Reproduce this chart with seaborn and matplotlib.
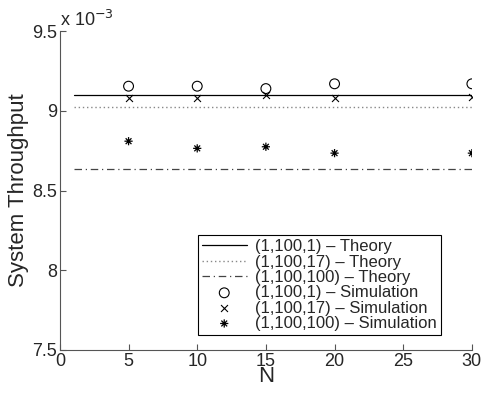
import matplotlib
matplotlib.use('Agg')
import matplotlib.pyplot as plt
from matplotlib.path import Path
import seaborn as sns
import pandas as pd

# values in units of 1e-3
N_theory = [1, 30]
theory_1 = [9.10, 9.10]
theory_17 = [9.025, 9.025]
theory_100 = [8.635, 8.635]

N_sim = [5, 10, 15, 20, 30]
sim_1 = [9.155, 9.155, 9.14, 9.17, 9.17]
sim_17 = [9.08, 9.08, 9.10, 9.08, 9.09]
sim_100 = [8.81, 8.765, 8.775, 8.735, 8.735]

# MATLAB style asterisk: plus and cross together
d = 0.7071
star = Path([(-1, 0), (1, 0), (0, -1), (0, 1), (-d, -d), (d, d), (-d, d), (d, -d)],
            [Path.MOVETO, Path.LINETO] * 4)

sns.set_style('white')
plt.rcParams['font.family'] = ['Liberation Sans', 'DejaVu Sans']

fig, ax = plt.subplots(figsize=(4.83, 4.0), dpi=100)
fig.subplots_adjust(left=0.124, right=0.977, top=0.922, bottom=0.125)

sns.lineplot(x=N_theory, y=theory_1, color='black', lw=0.9, ax=ax,
             label='(1,100,1) \u2013 Theory')
sns.lineplot(x=N_theory, y=theory_17, color='#888888', lw=1.0, ls=(0, (1, 2)), ax=ax,
             label='(1,100,17) \u2013 Theory')
sns.lineplot(x=N_theory, y=theory_100, color='#444444', lw=0.9, ls=(0, (6, 3, 1, 3)), ax=ax,
             label='(1,100,100) \u2013 Theory')
sns.scatterplot(x=N_sim, y=sim_1, marker='o', s=50, facecolor='none', edgecolor='black',
                linewidth=0.8, ax=ax, label='(1,100,1) \u2013 Simulation')
sns.scatterplot(x=N_sim, y=sim_17, marker='x', s=25, color='black',
                linewidth=0.8, ax=ax, label='(1,100,17) \u2013 Simulation')
sns.scatterplot(x=N_sim, y=sim_100, marker=star, s=35, facecolor='none', edgecolor='black',
                linewidth=0.9, ax=ax, label='(1,100,100) \u2013 Simulation')

ax.set_xlim(0, 30)
ax.set_ylim(7.5, 9.5)
ax.set_xticks([0, 5, 10, 15, 20, 25, 30])
ax.set_yticks([7.5, 8, 8.5, 9, 9.5])
ax.set_yticklabels(['7.5', '8', '8.5', '9', '9.5'])
ax.tick_params(labelsize=13, direction='in', length=4, color='#555555', pad=2,
               bottom=True, left=True)
for s in ['top', 'right']:
    ax.spines[s].set_visible(False)
for s in ['left', 'bottom']:
    ax.spines[s].set_color('#555555')
    ax.spines[s].set_linewidth(0.8)

ax.set_xlabel('N', fontsize=16, labelpad=-3)
ax.set_ylabel('System Throughput', fontsize=16, labelpad=2)
ax.text(0, 1.005, 'x 10$^{-3}$', transform=ax.transAxes, fontsize=13, va='bottom')

leg = ax.legend(loc='lower right', bbox_to_anchor=(0.925, 0.047), borderaxespad=0,
                fontsize=12, frameon=True, fancybox=False, edgecolor='black', framealpha=1,
                handlelength=2.7, borderpad=0.25, labelspacing=0.02, handletextpad=0.5)
leg.get_frame().set_linewidth(0.8)

fig.savefig('out.png', dpi=100)
